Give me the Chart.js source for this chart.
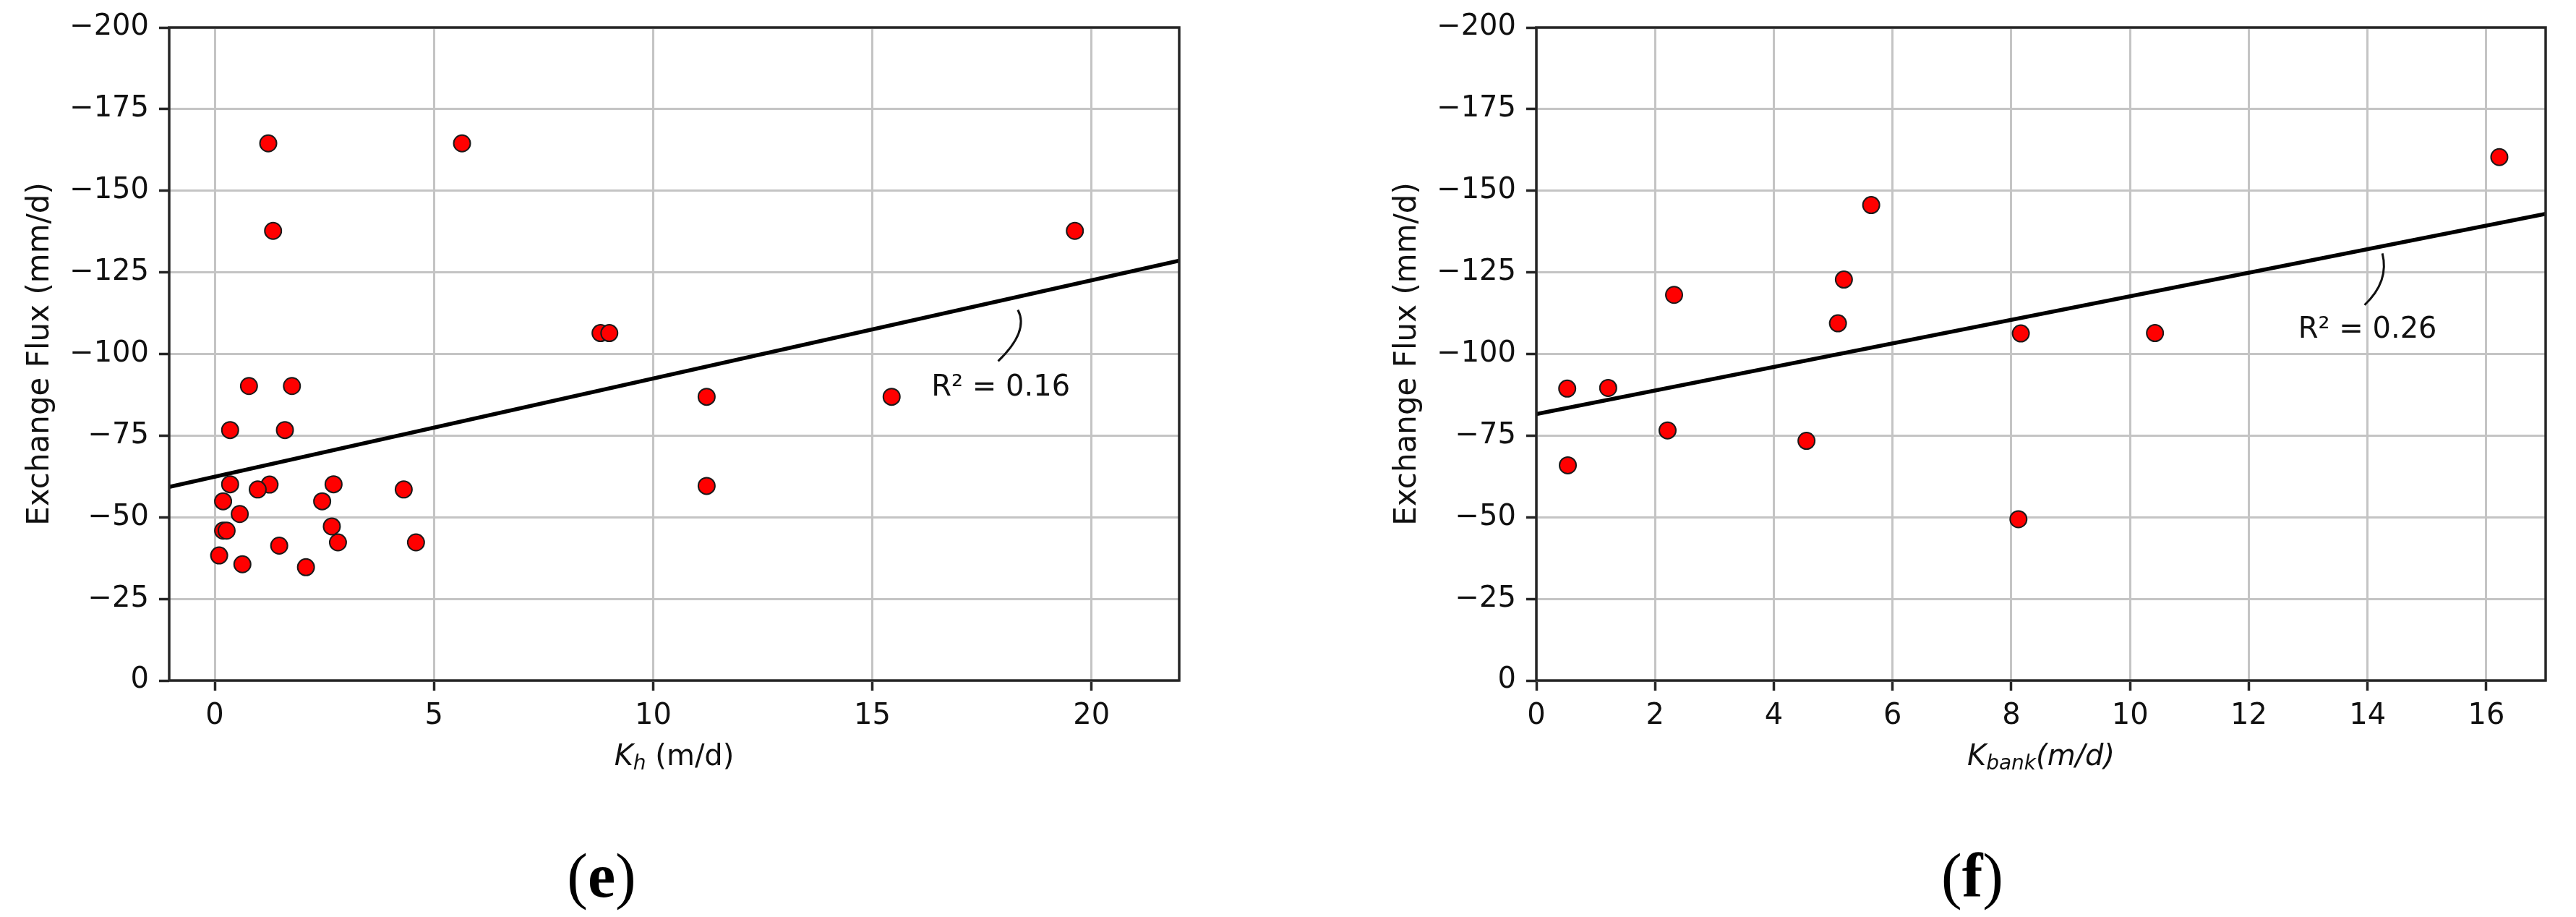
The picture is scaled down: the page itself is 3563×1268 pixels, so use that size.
<!DOCTYPE html>
<html><head><meta charset="utf-8">
<script src="https://cdn.jsdelivr.net/npm/chart.js@4.4.0/dist/chart.umd.min.js"></script>
<style>
html,body{margin:0;padding:0;background:#fff;}
body{width:3563px;height:1268px;position:relative;overflow:hidden;}
canvas{position:absolute;top:0;}
.lab{position:absolute;top:1168px;font-family:"Liberation Serif","Times New Roman",serif;font-size:86px;line-height:86px;color:#000;transform:translateX(-50%);white-space:nowrap;}
.lab b{font-weight:bold;}
</style></head><body>
<canvas id="c1" width="1780" height="1120" style="left:0px"></canvas>
<canvas id="c2" width="1672" height="1120" style="left:1891px"></canvas>
<div class="lab" style="left:832px">(<b>e</b>)</div>
<div class="lab" style="left:2728px">(<b>f</b>)</div>
<script>
// ---------- data ----------
const khValues = [1.22, 5.64, 1.33, 19.62, 8.80, 9.00, 0.78, 1.76, 11.22, 15.44,
  0.35, 1.60, 0.35, 1.25, 0.98, 2.71, 4.31, 11.22, 0.19, 2.45,
  0.57, 0.19, 0.27, 2.67, 1.47, 2.81, 4.59, 0.10, 0.63, 2.08];
const khFlux = [-164.5, -164.5, -137.7, -137.7, -106.4, -106.4, -90.2, -90.2, -86.9, -86.9,
  -76.7, -76.7, -60.1, -60.0, -58.5, -60.1, -58.5, -59.6, -54.9, -54.9,
  -51.0, -45.9, -45.9, -47.2, -41.3, -42.3, -42.3, -38.3, -35.6, -34.7];
const kbankValues = [16.22, 5.64, 5.18, 2.32, 5.08, 8.16, 10.42, 0.52, 1.21, 2.21, 4.55, 0.53, 8.12];
const kbankFlux = [-160.3, -145.6, -122.8, -118.1, -109.4, -106.3, -106.4, -89.4, -89.6, -76.6, -73.4, -65.9, -49.4];
const fitKhX = [-1.04, 22];
const fitKhY = [-59.3, -128.6];
const fitKbankX = [0, 17];
const fitKbankY = [-81.6, -142.9];
const yTickValues = [-200, -175, -150, -125, -100, -75, -50, -25, 0];
const khTickValues = [0, 5, 10, 15, 20];
const kbankTickValues = [0, 2, 4, 6, 8, 10, 12, 14, 16];
const r2Kh = 'R\u00B2 = 0.16';
const r2Kbank = 'R\u00B2 = 0.26';
const yTitle = 'Exchange Flux (mm/d)';

// ---------- styling ----------
const FONT = '"DejaVu Sans", Verdana, sans-serif';
const SPINE = '#262626';
const GRID = '#c4c4c4';

function fmtMinus(v) { return v < 0 ? '\u2212' + Math.abs(v) : String(v); }
function pts(xs, ys) { return xs.map((x, i) => ({x: x, y: ys[i]})); }

const framePlugin = {
  id: 'frame',
  afterDatasetsDraw(chart, args, opts) {
    const {ctx, chartArea: a, scales} = chart;
    const sx = scales.x, sy = scales.y;
    ctx.save();
    ctx.strokeStyle = SPINE;
    ctx.lineWidth = 3.5;
    ctx.strokeRect(a.left, a.top, a.right - a.left, a.bottom - a.top);
    // annotation connector
    const an = opts.ann;
    const P = p => [sx.getPixelForValue(p[0]), sy.getPixelForValue(p[1])];
    const f = P(an.from), c = P(an.ctrl), t = P(an.to);
    ctx.beginPath();
    ctx.moveTo(f[0], f[1]);
    ctx.quadraticCurveTo(c[0], c[1], t[0], t[1]);
    ctx.strokeStyle = '#111';
    ctx.lineWidth = 3;
    ctx.stroke();
    const at = P(an.at);
    ctx.fillStyle = '#111';
    ctx.font = '40px ' + FONT;
    ctx.textAlign = 'center';
    ctx.textBaseline = 'middle';
    ctx.fillText(an.text, at[0], at[1]);
    // x-axis title with subscript
    const parts = opts.xTitle;
    let w = 0;
    parts.forEach(p => { ctx.font = p.font; w += ctx.measureText(p.t).width; });
    let xx = (a.left + a.right) / 2 - w / 2;
    const base = a.bottom + 117;
    ctx.textAlign = 'left';
    ctx.textBaseline = 'alphabetic';
    parts.forEach(p => {
      ctx.font = p.font;
      ctx.fillText(p.t, xx, base + (p.dy || 0));
      xx += ctx.measureText(p.t).width;
    });
    ctx.restore();
  }
};

function makeChart(id, xs, ys, fx, fy, xmin, xmax, xticks, rightPad, ann, xTitleParts) {
  return new Chart(document.getElementById(id), {
    type: 'scatter',
    data: {
      datasets: [
        {
          type: 'line',
          data: pts(fx, fy),
          borderColor: '#000',
          borderWidth: 5.5,
          pointRadius: 0,
          fill: false,
          tension: 0
        },
        {
          data: pts(xs, ys),
          pointRadius: 11.5,
          pointBackgroundColor: '#ff0000',
          pointBorderColor: '#1a1a1a',
          pointBorderWidth: 2,
          showLine: false
        }
      ]
    },
    options: {
      responsive: false,
      animation: false,
      devicePixelRatio: 1,
      layout: {padding: {top: 35, right: rightPad, bottom: 49, left: 0}},
      plugins: {
        legend: {display: false},
        tooltip: {enabled: false},
        frame: {ann: ann, xTitle: xTitleParts}
      },
      scales: {
        x: {
          type: 'linear',
          min: xmin,
          max: xmax,
          afterBuildTicks: s => { s.ticks = xticks.map(v => ({value: v})); },
          afterFit: s => { s.height = 130; },
          grid: {color: GRID, lineWidth: 3, drawTicks: true, tickLength: 14, tickColor: SPINE, tickWidth: 3.5},
          border: {display: false},
          ticks: {font: {family: FONT, size: 40}, color: '#111', padding: 12, maxRotation: 0,
                  callback: v => fmtMinus(v)},
          title: {display: false}
        },
        y: {
          type: 'linear',
          min: -200,
          max: 0,
          reverse: true,
          afterBuildTicks: s => { s.ticks = yTickValues.map(v => ({value: v})); },
          afterFit: s => { s.width = 234; },
          grid: {color: GRID, lineWidth: 3, drawTicks: true, tickLength: 14, tickColor: SPINE, tickWidth: 3.5},
          border: {display: false},
          ticks: {font: {family: FONT, size: 40}, color: '#111', padding: 14,
                  callback: v => fmtMinus(v)},
          title: {display: true, text: yTitle, color: '#111',
                  font: {family: FONT, size: 42}, padding: {top: 31, bottom: 0}}
        }
      }
    },
    plugins: [framePlugin]
  });
}

const itl = 'italic 40px ' + FONT;
const itlSub = 'italic 28px ' + FONT;
const reg = '40px ' + FONT;

makeChart('c1', khValues, khFlux, fitKhX, fitKhY, -1.04, 22, khTickValues, 149,
  {text: r2Kh, at: [17.93, -89.6], from: [17.87, -97.8], ctrl: [18.58, -107.0], to: [18.32, -113.5]},
  [{t: 'K', font: itl}, {t: 'h', font: itlSub, dy: 6}, {t: ' (m/d)', font: reg}]);

makeChart('c2', kbankValues, kbankFlux, fitKbankX, fitKbankY, 0, 17, kbankTickValues, 42,
  {text: r2Kbank, at: [14.0, -107.3], from: [13.95, -115.0], ctrl: [14.37, -122.2], to: [14.25, -130.8]},
  [{t: 'K', font: itl}, {t: 'bank', font: itlSub, dy: 6}, {t: '(m/d)', font: itl}]);
</script>
</body></html>
